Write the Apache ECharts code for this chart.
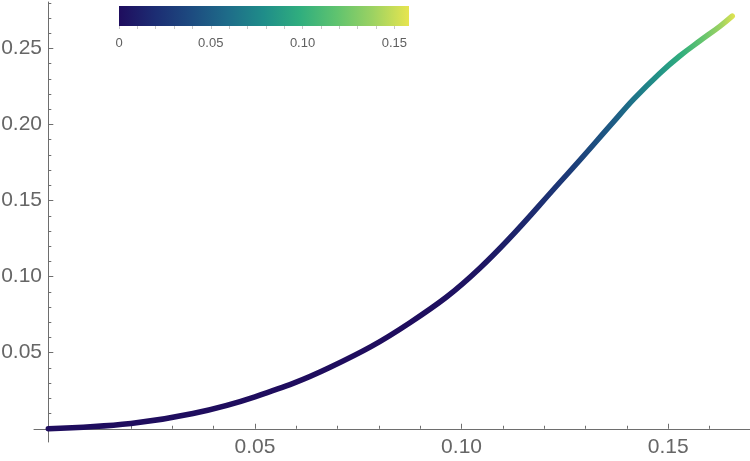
<!DOCTYPE html>
<html><head><meta charset="utf-8">
<script src="https://cdn.jsdelivr.net/npm/echarts@6/dist/echarts.min.js"></script>
<style>html,body{margin:0;padding:0;background:#fff}#c{width:750px;height:461px}</style>
</head><body><div id="c"></div>
<script>
// curve points (x, y) and colour variable c
const xs = [0, 0.020, 0.035, 0.050, 0.0682, 0.0875, 0.1044, 0.1254, 0.1367, 0.1416, 0.148, 0.1528, 0.1577, 0.1625, 0.1655];
const ys = [0, 0.0035, 0.0100, 0.0210, 0.0404, 0.0697, 0.1055, 0.1668, 0.2015, 0.2165, 0.2337, 0.2450, 0.2550, 0.2645, 0.2712];
const cs = [0, 0, 0, 0, 0, 0, 0.005, 0.028, 0.05, 0.065, 0.085, 0.1, 0.12, 0.14, 0.157];

const xMajorTicks = [0.05, 0.10, 0.15];
const xMinorTicks = [0.01, 0.02, 0.03, 0.04, 0.06, 0.07, 0.08, 0.09, 0.11, 0.12, 0.13, 0.14, 0.16];
const yMajorTicks = [0.05, 0.10, 0.15, 0.20, 0.25];
const yMinorTicks = [0.01, 0.02, 0.03, 0.04, 0.06, 0.07, 0.08, 0.09, 0.11, 0.12, 0.13, 0.14, 0.16, 0.17, 0.18, 0.19, 0.21, 0.22, 0.23, 0.24, 0.26, 0.27, 0.28];
const barTicks = [0, 0.01, 0.02, 0.03, 0.04, 0.05, 0.06, 0.07, 0.08, 0.09, 0.10, 0.11, 0.12, 0.13, 0.14, 0.15];
const barLabels = [0, 0.05, 0.10, 0.15];
const cMin = 0, cMax = 0.158;
const palette = ['#1f0d5e', '#1c2d73', '#1d4b80', '#1e6c89', '#1f8d89', '#30ae7e', '#5fc36f', '#9cd262', '#e7e54f'];

function hexToRgb(h) { return [parseInt(h.slice(1,3),16), parseInt(h.slice(3,5),16), parseInt(h.slice(5,7),16)]; }
function lerpColor(t) {
  t = Math.max(0, Math.min(1, t));
  const p = t * (palette.length - 1);
  const i = Math.min(palette.length - 2, Math.floor(p));
  const f = p - i;
  const a = hexToRgb(palette[i]), b = hexToRgb(palette[i+1]);
  const c = a.map((v, k) => Math.round(v + (b[k] - v) * f));
  return 'rgb(' + c.join(',') + ')';
}

const x0 = xs[0], x1 = xs[xs.length - 1];
const lineStops = xs.map((x, i) => ({ offset: (x - x0) / (x1 - x0), color: lerpColor((cs[i] - cMin) / (cMax - cMin)) }));
const barStops = palette.map((c, i) => ({ offset: i / (palette.length - 1), color: c }));

const axisGray = '#6e6e6e';
const labelGray = '#666';
const font = "'Liberation Sans', Arial, sans-serif";
const xMin = -0.00346, xMax = 0.1698, yMin = -0.0087, yMax = 0.2805;

const chart = echarts.init(document.getElementById('c'), null, { renderer: 'canvas' });
chart.setOption({
  animation: false,
  backgroundColor: '#fff',
  grid: [
    { left: 34, right: 0, top: 2, bottom: 19, containLabel: false, outerBoundsMode: 'none' },
    { left: 34, right: 0, top: 2, bottom: 19, containLabel: false, outerBoundsMode: 'none' },
    { left: 119, top: 6, width: 290, height: 20, show: true, borderWidth: 0, containLabel: false, outerBoundsMode: 'none',
      backgroundColor: new echarts.graphic.LinearGradient(0, 0, 1, 0, barStops) }
  ],
  xAxis: [
    { type: 'value', gridIndex: 0, min: xMin, max: xMax,
      axisLine: { show: true, onZero: true, lineStyle: { color: axisGray, width: 1 } },
      axisTick: { show: true, inside: true, length: 5, customValues: xMajorTicks, lineStyle: { color: axisGray } },
      axisLabel: { show: true, customValues: xMajorTicks, margin: -5, fontSize: 21, color: labelGray, fontFamily: font,
        formatter: v => v.toFixed(2) },
      splitLine: { show: false } },
    { type: 'value', gridIndex: 1, min: xMin, max: xMax,
      axisLine: { show: false, onZero: true },
      axisTick: { show: true, inside: true, length: 3, customValues: xMinorTicks, lineStyle: { color: axisGray } },
      axisLabel: { show: false, customValues: xMinorTicks },
      splitLine: { show: false } },
    { type: 'value', gridIndex: 2, min: cMin, max: cMax, position: 'bottom',
      axisLine: { show: false },
      axisTick: { show: true, inside: false, length: 3, customValues: barTicks, lineStyle: { color: '#c8c8c8' } },
      axisLabel: { show: true, customValues: barLabels, margin: 11, fontSize: 13, color: '#606060', fontFamily: font,
        formatter: v => v === 0 ? '0' : v.toFixed(2) },
      splitLine: { show: false } }
  ],
  yAxis: [
    { type: 'value', gridIndex: 0, min: yMin, max: yMax,
      axisLine: { show: true, onZero: true, lineStyle: { color: axisGray, width: 1 } },
      axisTick: { show: true, inside: true, length: 5, customValues: yMajorTicks, lineStyle: { color: axisGray } },
      axisLabel: { show: true, customValues: yMajorTicks, margin: -8, fontSize: 21, color: labelGray, fontFamily: font,
        formatter: v => v.toFixed(2) },
      splitLine: { show: false } },
    { type: 'value', gridIndex: 1, min: yMin, max: yMax,
      axisLine: { show: false, onZero: true },
      axisTick: { show: true, inside: true, length: 3, customValues: yMinorTicks, lineStyle: { color: axisGray } },
      axisLabel: { show: false, customValues: yMinorTicks },
      splitLine: { show: false } },
    { type: 'value', gridIndex: 2, min: 0, max: 1, show: false }
  ],
  series: [
    { type: 'line', xAxisIndex: 0, yAxisIndex: 0,
      data: xs.map((x, i) => [x, ys[i]]),
      showSymbol: false, symbol: 'none', smooth: 0.4,
      lineStyle: { width: 5.5, cap: 'round', join: 'round',
        color: new echarts.graphic.LinearGradient(0, 0, 1, 0, lineStops) } }
  ]
});
</script>
</body></html>
